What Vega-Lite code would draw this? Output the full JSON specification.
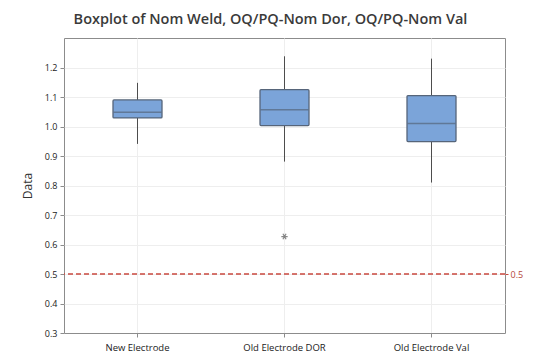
{
  "$schema": "https://vega.github.io/schema/vega-lite/v6.json",
  "width": 441,
  "height": 295,
  "autosize": "none",
  "padding": {"left": 64, "top": 38, "right": 33, "bottom": 31},
  "background": "white",
  "title": {
    "text": "Boxplot of Nom Weld, OQ/PQ-Nom Dor, OQ/PQ-Nom Val",
    "fontSize": 14.5,
    "font": "Open Sans",
    "fontWeight": 600,
    "color": "#3a3a3a",
    "dx": -14,
    "offset": 11
  },
  "config": {
    "view": {"stroke": "#8c8c8c", "strokeWidth": 1},
    "axis": {
      "labelFont": "Open Sans",
      "titleFont": "Open Sans",
      "labelFontSize": 9,
      "labelColor": "#222222",
      "gridColor": "#eeeeee",
      "gridWidth": 1,
      "tickColor": "#8c8c8c",
      "domainColor": "#8c8c8c",
      "tickSize": 4
    }
  },
  "datasets": {
    "boxes": [
      {"group": "New Electrode", "lower": 0.941, "q1": 1.029, "median": 1.048, "q3": 1.090, "upper": 1.148},
      {"group": "Old Electrode DOR", "lower": 0.881, "q1": 1.003, "median": 1.057, "q3": 1.125, "upper": 1.238},
      {"group": "Old Electrode Val", "lower": 0.810, "q1": 0.949, "median": 1.010, "q3": 1.105, "upper": 1.230}
    ],
    "outliers": [
      {"group": "Old Electrode DOR", "value": 0.627}
    ],
    "ref": [
      {"ref": 0.5}
    ]
  },
  "resolve": {"axis": {"y": "independent"}},
  "layer": [
    {
      "data": {"name": "boxes"},
      "mark": {"type": "rule", "color": "#4d4d4d", "strokeWidth": 1},
      "encoding": {
        "x": {
          "field": "group", "type": "nominal", "sort": null,
          "scale": {"paddingInner": 0, "paddingOuter": 0},
          "axis": {"title": null, "labelAngle": 0, "labelPadding": 5, "grid": true, "bandPosition": 0.5, "labelFontSize": 9.5, "labelFontWeight": 500}
        },
        "y": {
          "field": "lower", "type": "quantitative",
          "scale": {"domain": [0.3, 1.3], "nice": false, "zero": false},
          "axis": {
            "title": "Data", "titleFontSize": 12, "titleFontWeight": "normal", "titleColor": "#333333",
            "values": [0.3, 0.4, 0.5, 0.6, 0.7, 0.8, 0.9, 1.0, 1.1, 1.2],
            "format": ".1f", "grid": true, "labelPadding": 3, "titlePadding": 10, "domain": false
          }
        },
        "y2": {"field": "upper"}
      }
    },
    {
      "data": {"name": "boxes"},
      "mark": {"type": "bar", "size": 49, "fill": "#7ba4d9", "stroke": "#56657a", "strokeWidth": 1.3, "cornerRadius": 1},
      "encoding": {
        "x": {"field": "group", "type": "nominal", "sort": null},
        "y": {"field": "q1", "type": "quantitative", "axis": null},
        "y2": {"field": "q3"}
      }
    },
    {
      "data": {"name": "boxes"},
      "mark": {"type": "tick", "size": 48, "thickness": 1.5, "color": "#56657a"},
      "encoding": {
        "x": {"field": "group", "type": "nominal", "sort": null},
        "y": {"field": "median", "type": "quantitative", "axis": null}
      }
    },
    {
      "data": {"name": "outliers"},
      "mark": {
        "type": "point",
        "shape": "M-1,0L1,0M-0.5,-0.866L0.5,0.866M-0.5,0.866L0.5,-0.866",
        "filled": false, "size": 40, "stroke": "#555555", "strokeWidth": 1.2
      },
      "encoding": {
        "x": {"field": "group", "type": "nominal", "sort": null},
        "y": {"field": "value", "type": "quantitative", "axis": null}
      }
    },
    {
      "data": {"name": "ref"},
      "mark": {"type": "rule", "color": "#c9483f", "strokeDash": [5, 3], "strokeWidth": 1.5},
      "encoding": {
        "y": {
          "field": "ref", "type": "quantitative",
          "axis": {
            "orient": "right", "values": [0.5], "format": ".1f", "title": null,
            "grid": false, "domain": false, "labelColor": "#b5473a", "tickColor": "#c9483f",
            "tickSize": 3, "labelPadding": 2
          }
        }
      }
    }
  ]
}
